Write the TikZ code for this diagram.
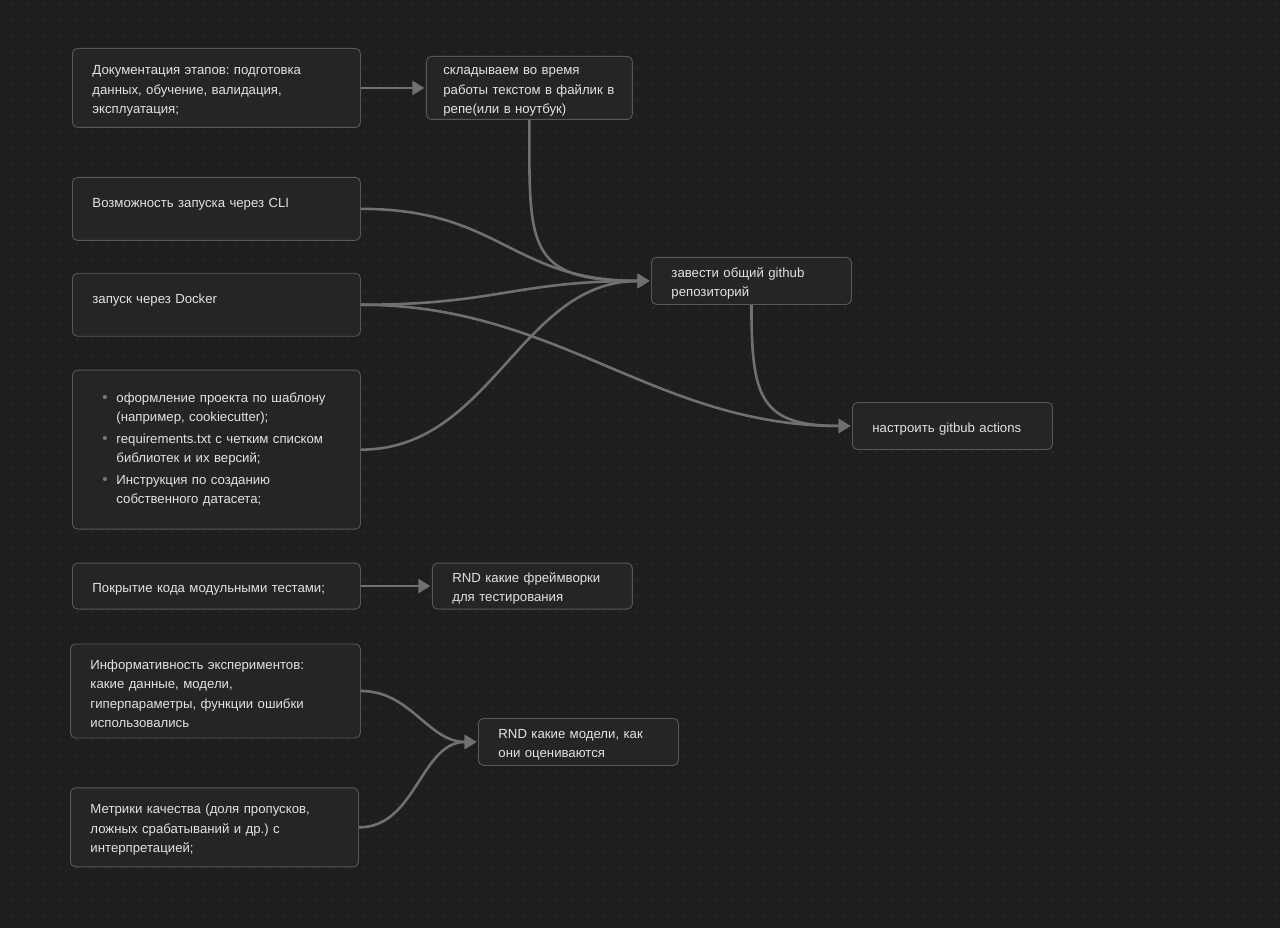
\documentclass[tikz,border=0pt]{standalone}
\usepackage{fontspec}
\setmainfont{Liberation Sans}
\usepackage{tikz}
\usetikzlibrary{arrows.meta,positioning}
\definecolor{canvasdark}{RGB}{30,30,30}
\definecolor{gridgray}{RGB}{56,56,56}
\definecolor{boxfill}{RGB}{37,37,37}
\definecolor{boxline}{RGB}{88,88,88}
\definecolor{linkgray}{RGB}{112,112,112}
\definecolor{textlight}{RGB}{226,226,226}
\definecolor{bulgray}{RGB}{120,120,120}
\newcommand{\itembul}{\hspace*{10pt}\makebox[14pt][l]{\color{bulgray}\fontsize{15}{15}\selectfont\raisebox{-0.5pt}{\textbullet}}}
\newcommand{\itemgap}{\hspace*{24pt}}
\frenchspacing

\begin{document}
\begin{tikzpicture}[
    x=1pt, y=-1pt,
    node distance=33pt,
    box/.style={rectangle, draw=boxline, fill=boxfill, line width=0.9pt, rounded corners=5pt, text=textlight, align=left, inner xsep=20pt, inner ysep=2pt, font=\fontsize{13.2}{19.5}\selectfont},
    textdrop/.style={execute at begin node={\rule{0pt}{15pt}}},
    wide/.style={box, textdrop, text width=248pt},
    narrow/.style={box, textdrop, text width=160pt},
    raised/.style={text depth=17.5pt},
    link/.style={draw=linkgray, line width=2.6pt, shorten >=1.5pt, -{Triangle[length=12pt, width=14pt]}}
]
\useasboundingbox (0,0) rectangle (1280,928);
\fill[canvasdark] (0,0) rectangle (1280,928);
\foreach \y in {4,20,...,924}
  \fill[gridgray] \foreach \x in {13,29,...,1277}{(\x,\y) circle (0.9pt)};

\node[wide, minimum height=79pt, anchor=north west] (doc) at (72,48) {Документация этапов: подготовка\\данных, обучение, валидация,\\эксплуатация;};
\node[box, textdrop, inner xsep=17pt, text width=172pt, minimum height=63pt, right=65pt of doc] (notes) {складываем во время\\работы текстом в файлик в\\репе(или в ноутбук)};
\node[wide, raised, minimum height=63pt, below=49pt of doc] (cli) {Возможность запуска через CLI};
\node[wide, raised, minimum height=63pt, below=32pt of cli] (docker) {запуск через Docker};
\node[box, text width=248pt, minimum height=159pt, below=of docker] (tmpl) {\itembul оформление проекта по шаблону\\\itemgap (например, cookiecutter);\\[2pt]\itembul requirements.txt с четким списком\\\itemgap библиотек и их версий;\\[2pt]\itembul Инструкция по созданию\\\itemgap собственного датасета;};
\node[wide, minimum height=46pt, below=of tmpl] (tests) {Покрытие кода модульными тестами;};
\node[narrow, minimum height=46pt, right=71pt of tests] (rndfw) {RND какие фреймворки\\для тестирования};
\node[box, textdrop, text width=250pt, minimum height=94pt, below=34pt of tests, xshift=-1pt] (info) {Информативность экспериментов:\\какие данные, модели,\\гиперпараметры, функции ошибки\\использовались};
\node[wide, minimum height=79pt, below=49pt of info, xshift=-1pt] (metr) {Метрики качества (доля пропусков,\\ложных срабатываний и др.) с\\интерпретацией;};
\node[narrow, minimum height=47pt, anchor=north west] (repo) at (651,257) {завести общий github\\репозиторий};
\node[narrow, minimum height=47pt, anchor=north west] (act) at (852,402) {настроить gitbub actions};
\node[narrow, minimum height=47pt, anchor=north west] (rndmod) at (478,718) {RND какие модели, как\\они оцениваются};

\draw[link] (doc.east) -- (notes.west);
\draw[link] (notes.south) to[out=-90, in=180, looseness=1.6] (repo.west);
\draw[link] (cli.east) to[out=0, in=180, looseness=1.2] (repo.west);
\draw[link] (docker.east) to[out=0, in=180, looseness=1.2] (repo.west);
\draw[link] (docker.east) to[out=0, in=180] (act.west);
\draw[link] (tmpl.east) to[out=0, in=180] (repo.west);
\draw[link] (repo.south) to[out=-90, in=180, looseness=1.5] (act.west);
\draw[link] (tests.east) -- (rndfw.west);
\draw[link] (info.east) to[out=0, in=180] (rndmod.west);
\draw[link] (metr.east) to[out=0, in=180] (rndmod.west);
\end{tikzpicture}
\end{document}
